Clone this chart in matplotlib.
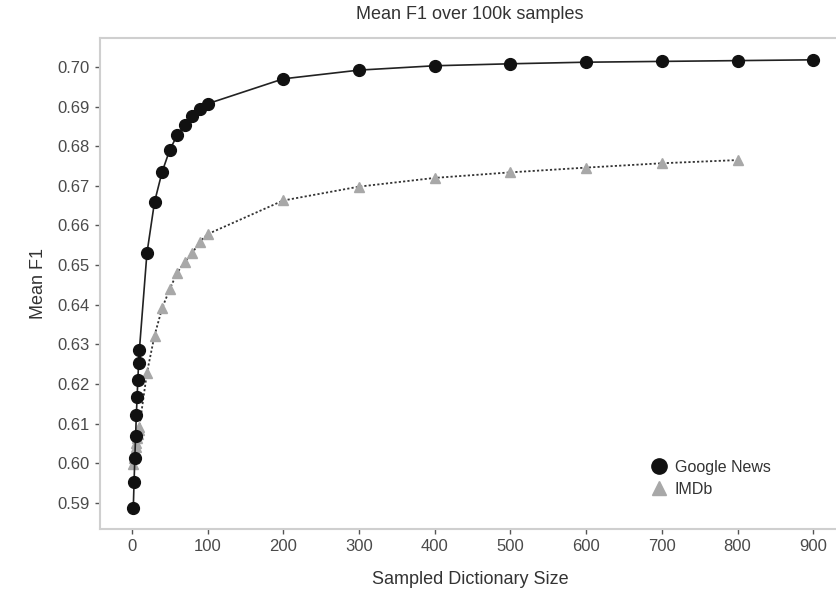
import matplotlib
matplotlib.use("Agg")
import matplotlib.pyplot as plt
from matplotlib.lines import Line2D

plt.rcParams['font.family'] = ['Liberation Sans', 'DejaVu Sans']

# Sampled dictionary sizes and mean F1 for each corpus
google_sizes = [2, 3, 4, 5, 6, 7, 8, 9, 10, 20, 30, 40, 50, 60, 70, 80, 90, 100,
                200, 300, 400, 500, 600, 700, 800, 900]
google_f1 = [0.5888, 0.5953, 0.6012, 0.6068, 0.6121, 0.6166, 0.6211, 0.6252, 0.6285,
             0.6530, 0.6659, 0.6735, 0.6790, 0.6828, 0.6854, 0.6876, 0.6894, 0.6907,
             0.6970, 0.6992, 0.7003, 0.7008, 0.7012, 0.7014, 0.7016, 0.7018]

imdb_sizes = [2, 3, 4, 5, 6, 7, 8, 9, 10, 20, 30, 40, 50, 60, 70, 80, 90, 100,
              200, 300, 400, 500, 600, 700, 800]
imdb_f1 = [0.5998, 0.6012, 0.6026, 0.6040, 0.6052, 0.6063, 0.6074, 0.6083, 0.6092,
           0.6228, 0.6322, 0.6391, 0.6439, 0.6481, 0.6508, 0.6531, 0.6559, 0.6578,
           0.6663, 0.6698, 0.6720, 0.6734, 0.6746, 0.6757, 0.6765]

x_ticks = [0, 100, 200, 300, 400, 500, 600, 700, 800, 900]
y_ticks = [0.59, 0.60, 0.61, 0.62, 0.63, 0.64, 0.65, 0.66, 0.67, 0.68, 0.69, 0.70]

fig = plt.figure(figsize=(8.36, 5.96), dpi=100)
ax = fig.add_axes([0.1196, 0.1124, 0.885, 0.8238])

ax.plot(imdb_sizes, imdb_f1, color='#333333', linestyle=(0, (1.2, 1.2)), linewidth=1.3,
        marker='^', markersize=7.5, markerfacecolor='#a8a8a8', markeredgecolor='#a8a8a8',
        zorder=2)
ax.plot(google_sizes, google_f1, color='#222222', linestyle='-', linewidth=1.2,
        marker='o', markersize=8.5, markerfacecolor='#111111', markeredgecolor='#111111',
        zorder=3)

ax.set_xlim(-42, 935)
ax.set_ylim(0.5834, 0.7073)
ax.set_xticks(x_ticks)
ax.set_xticklabels([str(v) for v in x_ticks])
ax.set_yticks(y_ticks)
ax.set_yticklabels([f"{v:.2f}" for v in y_ticks])

for side in ['top', 'left', 'bottom']:
    ax.spines[side].set_color('#cfcfcf')
    ax.spines[side].set_linewidth(1.5)
ax.spines['right'].set_visible(False)

ax.tick_params(axis='both', colors='#555555', labelcolor='#4a4a4a', labelsize=12,
               length=3.5, width=1, direction='out', pad=4)

ax.set_title('Mean F1 over 100k samples', fontsize=13, color='#333333', pad=14)
ax.set_xlabel('Sampled Dictionary Size', fontsize=13, color='#333333', labelpad=12)
ax.set_ylabel('Mean F1', fontsize=13, color='#333333', labelpad=7)

handles = [
    Line2D([], [], linestyle='none', marker='o', markersize=11,
           markerfacecolor='#111111', markeredgecolor='#111111'),
    Line2D([], [], linestyle='none', marker='^', markersize=10,
           markerfacecolor='#a8a8a8', markeredgecolor='#a8a8a8'),
]
ax.legend(handles, ['Google News', 'IMDb'], loc='center left',
          bbox_to_anchor=(0.734, 0.103), frameon=False, fontsize=11.5,
          handletextpad=0.0, labelspacing=0.45, borderaxespad=0, borderpad=0,
          labelcolor='#333333')

fig.savefig('out.png', dpi=100, facecolor='white')
